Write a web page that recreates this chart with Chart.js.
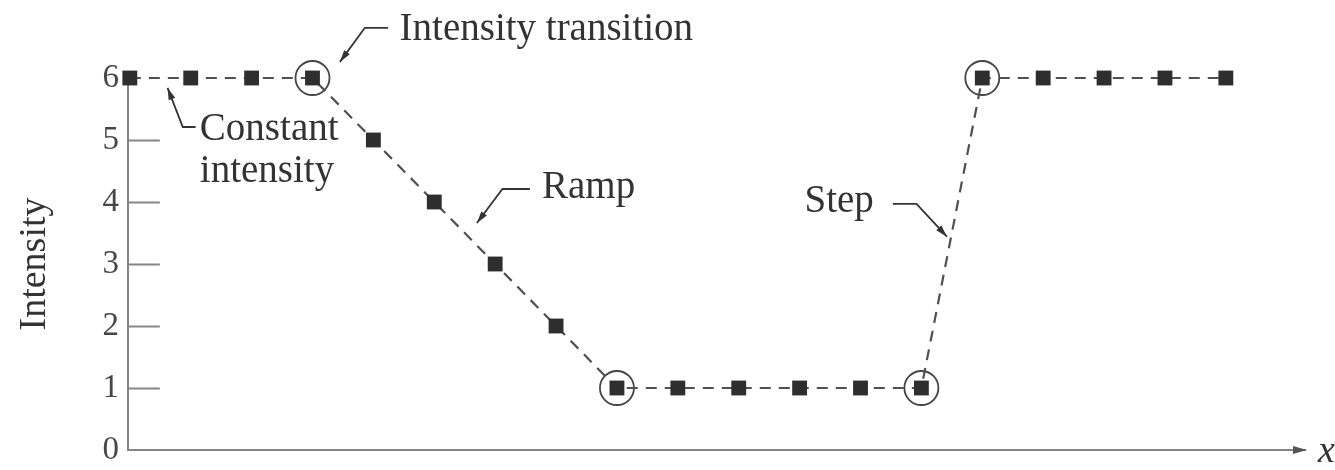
<!DOCTYPE html>
<html>
<head>
<meta charset="utf-8">
<title>Intensity profile</title>
<script src="https://cdn.jsdelivr.net/npm/chart.js@4.4.1/dist/chart.umd.min.js"></script>
<style>
  html, body { margin: 0; padding: 0; background: #ffffff; }
  #wrap { width: 1335px; height: 470px; position: relative; }
</style>
</head>
<body>
<div id="wrap"><canvas id="chart" width="1335" height="470"></canvas></div>
<script>
// Sample positions along the scan line and their intensity levels
const positions = [0, 1, 2, 3, 4, 5, 6, 7, 8, 9, 10, 11, 12, 13, 14, 15, 16, 17, 18];
const intensity = [6, 6, 6, 6, 5, 4, 3, 2, 1, 1, 1, 1, 1, 1, 6, 6, 6, 6, 6];
// Samples where the profile changes behaviour (circled)
const transitionIdx = [3, 8, 13, 14];
const yTicks = [0, 1, 2, 3, 4, 5, 6];
const yTitle = 'Intensity';
const xTitle = 'x';

// Callout labels: text lines, anchor of first baseline, leader polyline ending in an arrow (data units)
const callouts = [
  { lines: ['Intensity transition'], at: [4.43, 6.61], leader: [[4.24, 6.81], [3.86, 6.81], [3.45, 6.26]] },
  { lines: ['Constant', 'intensity'], at: [1.15, 5.0], leader: [[1.08, 5.21], [0.87, 5.21], [0.62, 5.84]] },
  { lines: ['Ramp'], at: [6.77, 4.06], leader: [[6.57, 4.21], [6.12, 4.21], [5.70, 3.66]] },
  { lines: ['Step'], at: [11.08, 3.84], leader: [[12.53, 3.97], [12.92, 3.97], [13.42, 3.44]] }
];

const SERIF = '"Liberation Serif", "DejaVu Serif", serif';
const INK = '#333333';
const AXIS = '#858585';

function arrowHead(ctx, fx, fy, tx, ty, len, half) {
  const a = Math.atan2(ty - fy, tx - fx);
  ctx.beginPath();
  ctx.moveTo(tx, ty);
  ctx.lineTo(tx - len * Math.cos(a) + half * Math.sin(a), ty - len * Math.sin(a) - half * Math.cos(a));
  ctx.lineTo(tx - len * Math.cos(a) - half * Math.sin(a), ty - len * Math.sin(a) + half * Math.cos(a));
  ctx.closePath();
  ctx.fill();
}

const decorations = {
  id: 'decorations',
  beforeDatasetsDraw(chart) {
    const { ctx, scales: { x, y } } = chart;
    const x0 = x.getPixelForValue(0);
    ctx.save();
    // short inward tick marks on the intensity axis
    ctx.strokeStyle = AXIS;
    ctx.lineWidth = 2;
    yTicks.forEach(v => {
      if (v === 0 || v === 6) return;
      const py = Math.round(y.getPixelForValue(v)) + 0.5;
      ctx.beginPath();
      ctx.moveTo(x.left, py);
      ctx.lineTo(x0 + 30, py);
      ctx.stroke();
    });
    ctx.restore();
  },
  afterDraw(chart) {
    const { ctx, scales: { x, y }, chartArea } = chart;
    ctx.save();
    // arrow at the end of the position axis and its label
    const ay = y.getPixelForValue(0);
    ctx.fillStyle = '#555';
    arrowHead(ctx, chartArea.right - 20, ay, chartArea.right + 2, ay, 14, 4);
    ctx.fillStyle = INK;
    ctx.font = 'italic 38px ' + SERIF;
    ctx.textBaseline = 'alphabetic';
    ctx.textAlign = 'left';
    ctx.fillText(xTitle, chartArea.right + 13, ay + 12);

    // callouts
    ctx.font = '39px ' + SERIF;
    callouts.forEach(c => {
      const tx = x.getPixelForValue(c.at[0]);
      const ty = y.getPixelForValue(c.at[1]);
      c.lines.forEach((s, i) => ctx.fillText(s, tx, ty + i * 42));
      const pts = c.leader.map(p => [x.getPixelForValue(p[0]), y.getPixelForValue(p[1])]);
      ctx.strokeStyle = INK;
      ctx.lineWidth = 1.8;
      ctx.beginPath();
      pts.forEach((p, i) => i ? ctx.lineTo(p[0], p[1]) : ctx.moveTo(p[0], p[1]));
      ctx.stroke();
      const n = pts.length;
      ctx.fillStyle = INK;
      arrowHead(ctx, pts[n - 2][0], pts[n - 2][1], pts[n - 1][0], pts[n - 1][1], 12, 3.5);
    });
    ctx.restore();
  }
};

const profile = positions.map((p, i) => ({ x: p, y: intensity[i] }));
const circled = transitionIdx.map(i => ({ x: positions[i], y: intensity[i] }));

new Chart(document.getElementById('chart'), {
  type: 'line',
  data: {
    datasets: [
      {
        data: profile,
        clip: false,
        borderColor: '#505050',
        borderWidth: 2.2,
        borderDash: [11, 8],
        pointStyle: 'rect',
        pointRadius: 10.5,
        pointBorderWidth: 0,
        pointBackgroundColor: '#2e2e2e',
        pointBorderColor: '#2e2e2e',
        tension: 0,
        fill: false
      },
      {
        data: circled,
        clip: false,
        showLine: false,
        pointStyle: 'circle',
        pointRadius: 17,
        pointBorderWidth: 1.8,
        pointBackgroundColor: 'rgba(0,0,0,0)',
        pointBorderColor: '#454545'
      }
    ]
  },
  options: {
    responsive: false,
    animation: false,
    events: [],
    layout: { padding: { left: 0, top: 78, right: 30, bottom: 20 } },
    plugins: { legend: { display: false }, tooltip: { enabled: false } },
    scales: {
      x: {
        type: 'linear',
        min: -0.03,
        max: 19.3,
        ticks: { display: false },
        grid: { display: false, drawTicks: false },
        border: { display: true, color: AXIS, width: 2 },
        afterFit(scale) { scale.height = 0; scale.paddingLeft = 0; scale.paddingRight = 0; }
      },
      y: {
        type: 'linear',
        min: 0,
        max: 6,
        afterBuildTicks(scale) { scale.ticks = yTicks.map(v => ({ value: v })); },
        ticks: {
          color: '#474747',
          padding: 9,
          font: { family: SERIF, size: 33 }
        },
        grid: { display: false, drawTicks: false },
        border: { display: true, color: AXIS, width: 2 },
        title: {
          display: true,
          text: yTitle,
          color: INK,
          font: { family: SERIF, size: 38 },
          padding: { top: 12, bottom: 0 }
        },
        afterFit(scale) { scale.width = 128; scale.paddingTop = 0; scale.paddingBottom = 0; }
      }
    }
  },
  plugins: [decorations]
});
</script>
</body>
</html>
